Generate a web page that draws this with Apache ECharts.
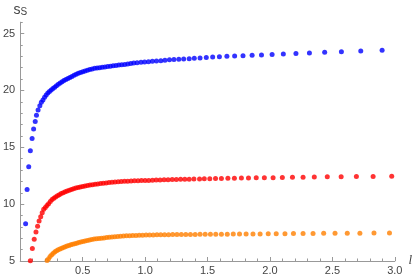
<!DOCTYPE html>
<html>
<head>
<meta charset="utf-8">
<script src="https://cdn.jsdelivr.net/npm/echarts@6/dist/echarts.min.js"></script>
<style>
  html, body { margin: 0; padding: 0; background: #fff; }
  #chart { width: 415px; height: 276px; }
</style>
</head>
<body>
<div id="chart"></div>
<script>
// values: l (x) and s_S (y) for each curve
const blueL = [0.043, 0.055, 0.068, 0.081, 0.095, 0.107, 0.120, 0.130, 0.143, 0.157,
  0.169, 0.182, 0.195, 0.208, 0.221, 0.234, 0.248, 0.262, 0.276, 0.290,
  0.305, 0.320, 0.335, 0.350, 0.366, 0.382, 0.398, 0.414, 0.431, 0.448,
  0.465, 0.483, 0.501, 0.519, 0.538, 0.557, 0.576, 0.596, 0.616, 0.636,
  0.657, 0.678, 0.700, 0.722, 0.744, 0.767, 0.790, 0.813, 0.837, 0.861,
  0.885, 0.909, 0.936, 0.967, 0.996, 1.027, 1.058, 1.091, 1.126, 1.159,
  1.195, 1.231, 1.270, 1.309, 1.353, 1.394, 1.440, 1.490, 1.541, 1.595,
  1.655, 1.717, 1.784, 1.857, 1.932, 2.017, 2.107, 2.208, 2.316, 2.438,
  2.572, 2.727, 2.898]
const blueS = [8.27, 11.29, 13.29, 14.70, 15.77, 16.61, 17.27, 17.82, 18.28, 18.66,
  18.96, 19.16, 19.40, 19.60, 19.78, 19.90, 20.03, 20.17, 20.29, 20.42,
  20.54, 20.65, 20.76, 20.87, 20.96, 21.05, 21.14, 21.22, 21.33, 21.42,
  21.50, 21.57, 21.64, 21.71, 21.77, 21.83, 21.88, 21.94, 21.97, 22.00,
  22.03, 22.06, 22.10, 22.13, 22.16, 22.20, 22.23, 22.26, 22.29, 22.33,
  22.37, 22.41, 22.44, 22.48, 22.50, 22.52, 22.56, 22.59, 22.62, 22.65,
  22.70, 22.72, 22.74, 22.77, 22.79, 22.83, 22.85, 22.90, 22.93, 22.96,
  23.00, 23.03, 23.06, 23.09, 23.12, 23.17, 23.21, 23.25, 23.30, 23.36,
  23.41, 23.47, 23.53]

const redL = [0.081, 0.097, 0.112, 0.126, 0.139, 0.151, 0.164, 0.176,
  0.188, 0.201, 0.214, 0.227, 0.241, 0.255, 0.269, 0.283, 0.298, 0.313,
  0.328, 0.344, 0.360, 0.376, 0.393, 0.410, 0.427, 0.445, 0.463, 0.481,
  0.500, 0.519, 0.539, 0.559, 0.579, 0.600, 0.621, 0.643, 0.665, 0.688,
  0.711, 0.735, 0.759, 0.784, 0.809, 0.835, 0.861, 0.888, 0.915, 0.943,
  0.971, 1.000, 1.029, 1.059, 1.089, 1.120, 1.152, 1.184, 1.217, 1.250,
  1.284, 1.318, 1.353, 1.391, 1.436, 1.474, 1.518, 1.564, 1.611, 1.663,
  1.715, 1.771, 1.828, 1.890, 1.955, 2.025, 2.099, 2.180, 2.265, 2.355,
  2.459, 2.570, 2.692, 2.826, 2.975]
const redS = [5.02, 6.10, 6.91, 7.55, 8.06, 8.52, 8.90, 9.25,
  9.55, 9.70, 9.89, 10.03, 10.24, 10.40, 10.51, 10.62, 10.73, 10.83,
  10.93, 11.01, 11.08, 11.15, 11.22, 11.29, 11.35, 11.41, 11.46, 11.51,
  11.56, 11.60, 11.64, 11.68, 11.71, 11.75, 11.78, 11.82, 11.84, 11.87,
  11.90, 11.92, 11.95, 11.97, 11.99, 12.01, 12.02, 12.04, 12.05, 12.06,
  12.07, 12.08, 12.09, 12.11, 12.12, 12.13, 12.14, 12.15, 12.16, 12.17,
  12.18, 12.19, 12.20, 12.21, 12.22, 12.23, 12.24, 12.25, 12.26, 12.27,
  12.28, 12.29, 12.30, 12.31, 12.32, 12.33, 12.35, 12.36, 12.37, 12.38,
  12.40, 12.41, 12.42, 12.44, 12.45]

const orangeL = [0.203, 0.215, 0.227, 0.239, 0.252, 0.265, 0.278, 0.291, 0.304, 0.318,
  0.332, 0.346, 0.360, 0.375, 0.390, 0.405, 0.420, 0.436, 0.452, 0.468,
  0.485, 0.502, 0.519, 0.537, 0.555, 0.573, 0.592, 0.611, 0.631, 0.651,
  0.671, 0.692, 0.713, 0.735, 0.757, 0.780, 0.803, 0.827, 0.851, 0.876,
  0.901, 0.927, 0.953, 0.980, 1.008, 1.036, 1.065, 1.095, 1.125, 1.156,
  1.188, 1.221, 1.255, 1.290, 1.326, 1.363, 1.401, 1.440, 1.481, 1.523,
  1.566, 1.611, 1.658, 1.706, 1.756, 1.809, 1.864, 1.921, 1.986, 2.050,
  2.120, 2.188, 2.265, 2.345, 2.430, 2.521, 2.619, 2.720, 2.833, 2.957]
const orangeS = [4.90, 5.05, 5.19, 5.40, 5.55, 5.69, 5.81, 5.90, 5.98, 6.06,
  6.13, 6.19, 6.25, 6.31, 6.37, 6.42, 6.47, 6.52, 6.57, 6.62,
  6.67, 6.71, 6.76, 6.80, 6.85, 6.89, 6.93, 6.95, 6.98, 7.01,
  7.03, 7.06, 7.08, 7.11, 7.13, 7.15, 7.17, 7.19, 7.21, 7.22,
  7.24, 7.25, 7.26, 7.27, 7.28, 7.29, 7.29, 7.30, 7.30, 7.31,
  7.31, 7.32, 7.32, 7.33, 7.33, 7.34, 7.34, 7.35, 7.35, 7.35,
  7.36, 7.36, 7.36, 7.37, 7.37, 7.37, 7.38, 7.38, 7.39, 7.39,
  7.40, 7.41, 7.42, 7.42, 7.43, 7.44, 7.44, 7.45, 7.46, 7.46]

const yMajorTicks = [5, 10, 15, 20, 25]
const yMinorTicks = [6, 7, 8, 9, 11, 12, 13, 14, 16, 17, 18, 19, 21, 22, 23, 24, 26]

const axisGray = '#999'
const labelGray = '#444'

function pairs(xs, ys) {
  return xs.map((x, i) => [x, ys[i]])
}

function dots(color, xs, ys) {
  return {
    type: 'scatter',
    symbolSize: 5,
    itemStyle: { color: color },
    emphasis: { disabled: true },
    data: pairs(xs, ys)
  }
}

const chart = echarts.init(document.getElementById('chart'))
chart.setOption({
  animation: false,
  grid: { left: 15.5, right: 13.3, top: 22.2, bottom: 15 },
  xAxis: {
    type: 'value',
    min: 0,
    max: 3,
    interval: 0.5,
    name: 'l',
    nameLocation: 'end',
    nameGap: 6,
    nameTextStyle: { color: labelGray, fontStyle: 'italic', fontSize: 13, fontFamily: 'Liberation Serif', verticalAlign: 'middle', padding: [0, 0, 4, 0] },
    axisLine: { onZero: false, lineStyle: { color: axisGray, width: 1 } },
    axisTick: { inside: true, length: 4, lineStyle: { color: axisGray } },
    minorTick: { show: true, splitNumber: 5, length: 2.5, lineStyle: { color: axisGray } },
    splitLine: { show: false },
    axisLabel: {
      color: labelGray,
      fontSize: 11,
      fontFamily: 'Liberation Sans',
      margin: 4,
      formatter: v => (v === 0 ? '' : v.toFixed(1))
    }
  },
  yAxis: [{
    type: 'value',
    min: 5,
    max: 26,
    position: 'left',
    name: '{s|s}{sub|S}',
    nameLocation: 'end',
    nameGap: 5,
    nameTextStyle: {
      rich: {
        s: { fontSize: 14, color: labelGray, fontFamily: 'Liberation Sans' },
        sub: { fontSize: 10, color: labelGray, fontFamily: 'Liberation Sans', verticalAlign: 'bottom', padding: [5, 0, 0, 0] }
      }
    },
    axisLine: { show: true, onZero: false, lineStyle: { color: axisGray, width: 1 } },
    axisTick: { inside: true, length: 4, customValues: yMajorTicks, lineStyle: { color: axisGray } },
    splitLine: { show: false },
    axisLabel: { customValues: yMajorTicks, color: labelGray, fontSize: 11, fontFamily: 'Liberation Sans', margin: 5 }
  }, {
    type: 'value',
    min: 5,
    max: 26,
    position: 'left',
    axisLine: { show: false },
    axisTick: { inside: true, length: 2.5, customValues: yMinorTicks, lineStyle: { color: axisGray } },
    splitLine: { show: false },
    axisLabel: { show: false }
  }],
  series: [
    dots('#0000ff', blueL, blueS),
    dots('#ff0000', redL, redS),
    dots('#ff8000', orangeL, orangeS)
  ]
})
</script>
</body>
</html>
